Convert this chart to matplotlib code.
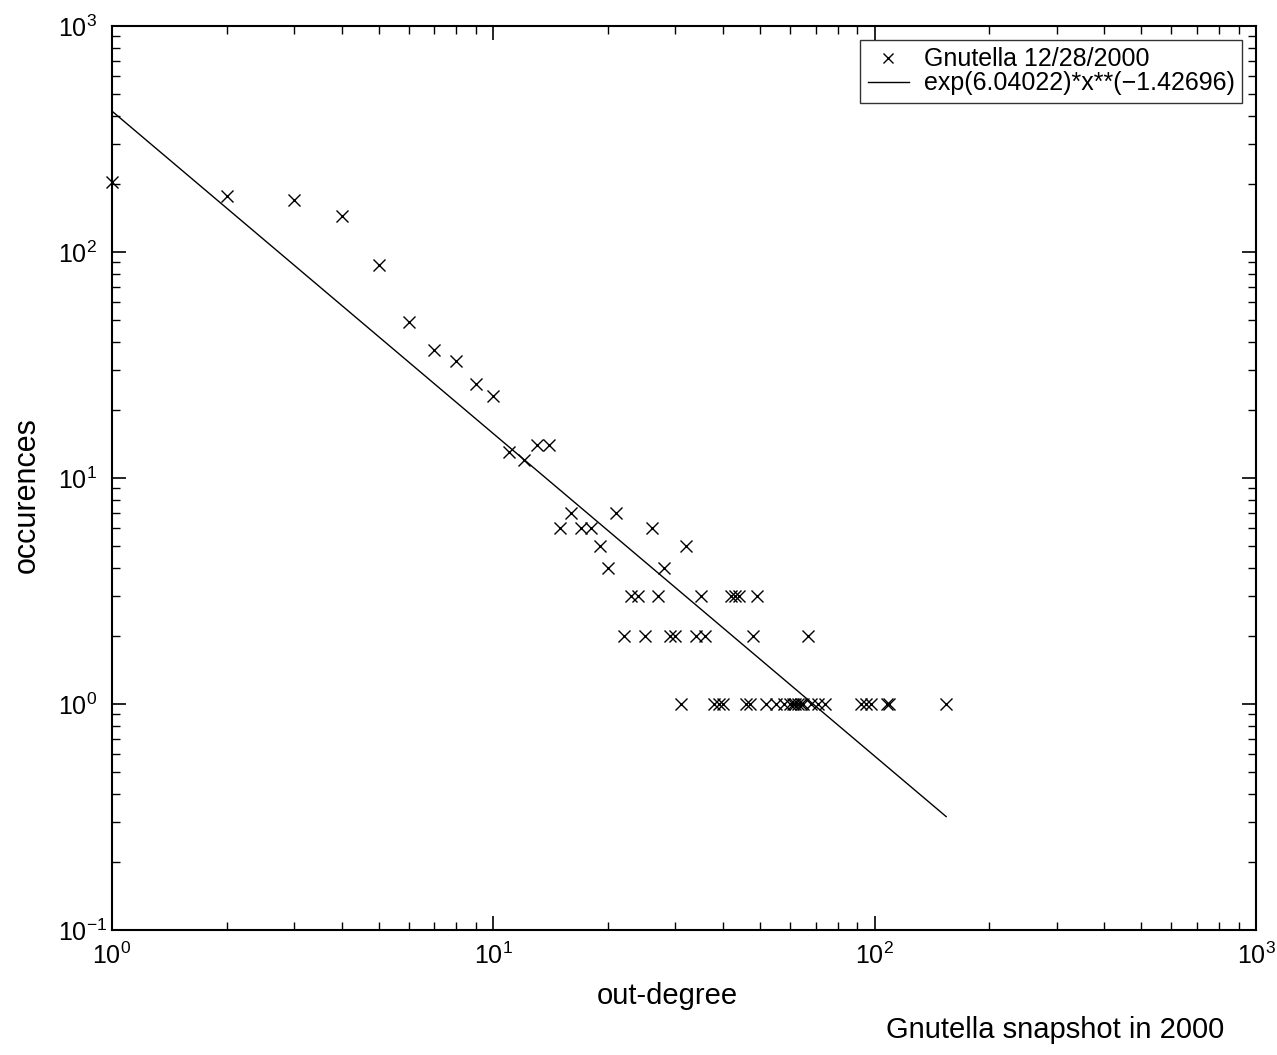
import numpy as np
import matplotlib
matplotlib.use("Agg")
import matplotlib.pyplot as plt
from matplotlib.ticker import LogLocator, LogFormatterSciNotation, NullFormatter

plt.rcParams['font.family'] = ['Liberation Sans', 'DejaVu Sans']
plt.rcParams['mathtext.fontset'] = 'custom'
plt.rcParams['mathtext.rm'] = 'Liberation Sans'
plt.rcParams['mathtext.it'] = 'Liberation Sans'
plt.rcParams['mathtext.default'] = 'regular'

# data: out-degree vs occurrences
degree = [1, 2, 3, 4, 5, 6, 7, 8, 9, 10, 11, 12, 13, 14, 15, 16, 17, 18, 19, 20,
          21, 22, 23, 24, 25, 26, 27, 28, 29, 30, 31, 32, 34, 35, 36,
          38, 39, 40, 42, 43, 44, 46, 47, 48, 49,
          52, 55, 58, 60, 61, 62, 63, 64, 65, 67, 68, 71, 74,
          92, 95, 98, 108, 109, 154]
occurrences = [205, 177, 170, 144, 88, 49, 37, 33, 26, 23, 13, 12, 14, 14, 6, 7, 6, 6, 5, 4,
               7, 2, 3, 3, 2, 6, 3, 4, 2, 2, 1, 5, 2, 3, 2,
               1, 1, 1, 3, 3, 3, 1, 1, 2, 3,
               1, 1, 1, 1, 1, 1, 1, 1, 1, 2, 1, 1, 1,
               1, 1, 1, 1, 1, 1]

fit_logc = 6.04022
fit_exp = -1.42696

series_label = "Gnutella 12/28/2000"
fit_label = "exp(6.04022)*x**(\u22121.42696)"
x_label = "out-degree"
y_label = "occurences"
caption = "Gnutella snapshot in 2000"

W, H = 1277, 1055
fig = plt.figure(figsize=(W / 100, H / 100), dpi=100)
ax = fig.add_axes([112 / W, 1 - 930 / H, (1256 - 112) / W, (930 - 26) / H])

ax.plot(degree, occurrences, linestyle='none', marker='x', color='black',
        markersize=9, markeredgewidth=1.0, label=series_label, clip_on=False, zorder=3)
xf = np.logspace(0, np.log10(max(degree)), 200)
ax.plot(xf, np.exp(fit_logc) * xf ** fit_exp, color='black', linewidth=1.0, label=fit_label)

ax.set_xscale('log')
ax.set_yscale('log')
ax.set_xlim(1, 1000)
ax.set_ylim(0.1, 1000)

for a in (ax.xaxis, ax.yaxis):
    a.set_major_locator(LogLocator(base=10, numticks=10))
    a.set_minor_locator(LogLocator(base=10, subs=np.arange(2, 10), numticks=10))
    a.set_major_formatter(LogFormatterSciNotation())
    a.set_minor_formatter(NullFormatter())

ax.tick_params(which='both', direction='in', top=True, right=True, colors='black')
ax.tick_params(which='major', length=10, width=1.2, labelsize=18)
ax.tick_params(axis='x', which='major', pad=9)
ax.tick_params(axis='y', which='major', pad=39)
ax.tick_params(which='minor', length=6, width=1.0)
for lbl in ax.get_yticklabels():
    lbl.set_horizontalalignment('left')
for s in ax.spines.values():
    s.set_linewidth(1.5)

fig.text(667 / W, 1 - 996 / H, x_label, ha='center', va='center', fontsize=21)
fig.text(27 / W, 1 - 495 / H, y_label, ha='center', va='center', rotation=90, fontsize=22)

leg = ax.legend(loc='upper right', fontsize=18, frameon=True, fancybox=False,
                edgecolor='black', borderpad=0.3, handlelength=1.65, handletextpad=0.6,
                labelspacing=0.0, borderaxespad=0.55, markerscale=0.75)
leg.get_frame().set_linewidth(1.0)

fig.text(1224 / W, 1 - 1030 / H, caption, ha='right', va='center', fontsize=21)

fig.savefig("out.png", dpi=100)
